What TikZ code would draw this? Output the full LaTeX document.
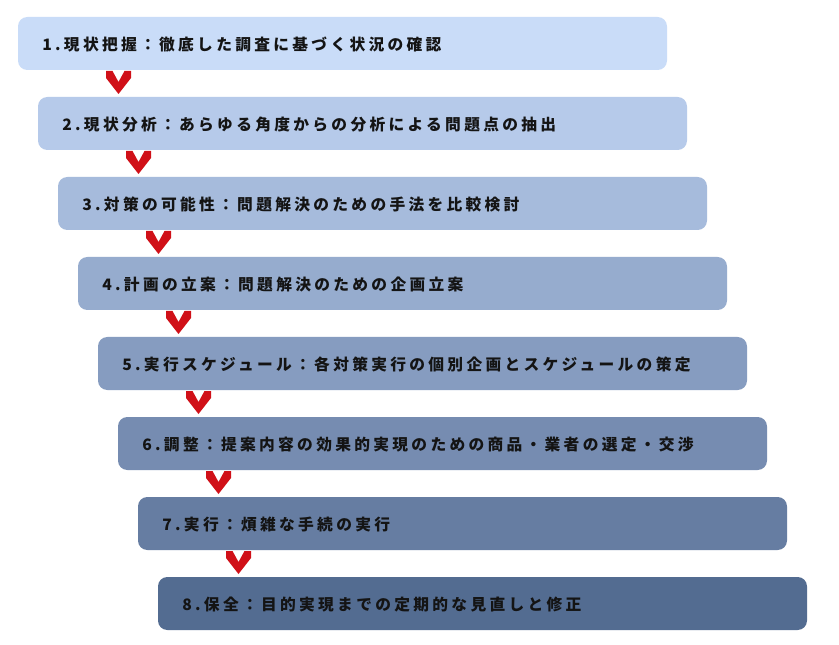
\documentclass[tikz,border=0pt]{standalone}
\usepackage{fontspec}
\newfontfamily\jp[LetterSpace=21]{Noto Sans CJK JP}
\definecolor{c1}{RGB}{201,220,248}
\definecolor{c2}{RGB}{182,202,234}
\definecolor{c3}{RGB}{166,187,220}
\definecolor{c4}{RGB}{150,172,206}
\definecolor{c5}{RGB}{134,156,192}
\definecolor{c6}{RGB}{118,140,177}
\definecolor{c7}{RGB}{102,125,162}
\definecolor{c8}{RGB}{83,108,145}
\definecolor{chev}{RGB}{208,16,24}
\definecolor{txt}{RGB}{20,20,20}
\tikzset{
  bar/.style={rounded corners=7, draw=none},
  bartext/.style={anchor=west, inner sep=0pt, text=txt, font=\jp\bfseries\fontsize{11.8pt}{14pt}\selectfont},
  chevron/.style={fill=chev, draw=none}
}
\begin{document}
\begin{tikzpicture}[x=0.75pt,y=-0.75pt]
\useasboundingbox (0,0) rectangle (839,645);
\fill[white] (0,0) rectangle (839,645);
\foreach \k/\t in {
 1/{1.現状把握：徹底した調査に基づく状況の確認},
 2/{2.現状分析：あらゆる角度からの分析による問題点の抽出},
 3/{3.対策の可能性：問題解決のための手法を比較検討},
 4/{4.計画の立案：問題解決のための企画立案},
 5/{5.実行スケジュール：各対策実行の個別企画とスケジュールの策定},
 6/{6.調整：提案内容の効果的実現のための商品・業者の選定・交渉},
 7/{7.実行：煩雑な手続の実行},
 8/{8.保全：目的実現までの定期的な見直しと修正}} {
  \pgfmathsetmacro{\xl}{18+20*(\k-1)}
  \pgfmathsetmacro{\yt}{17+80*(\k-1)}
  \fill[bar, c\k] (\xl,\yt) rectangle ++(649,53);
  \node[bartext] (t\k) at (\xl+24,\yt+27.5) {\t};
}
\foreach \k in {1,...,7} {
  \pgfmathsetmacro{\cx}{106+20*(\k-1)}
  \pgfmathsetmacro{\cy}{71+80*(\k-1)}
  \fill[chevron] (\cx,\cy) -- ++(6.5,0) -- ++(6,11) -- ++(6,-11) -- ++(6.5,0) -- ++(0,7) -- ++(-12.5,16) -- ++(-12.5,-16) -- cycle;
}
\end{tikzpicture}
\end{document}
